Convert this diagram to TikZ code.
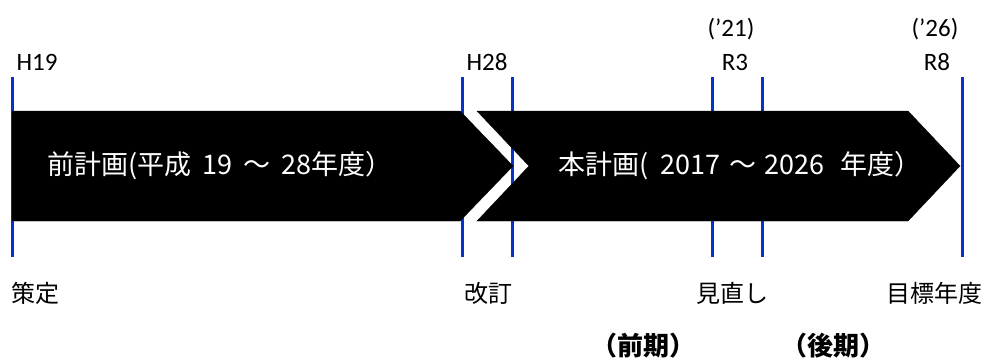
\documentclass[tikz,border=0pt]{standalone}
\usepackage{fontspec}
\setmainfont{Carlito}
\newfontfamily\cjk{Noto Sans CJK JP}
\definecolor{tickblue}{RGB}{5,50,200}
\begin{document}
\begin{tikzpicture}[x=1pt,y=-1pt,
  tick/.style={draw=tickblue,line width=3pt},
  band/.style={fill=black},
  lab/.style={inner sep=0pt,font=\fontsize{25}{27}\selectfont},
  jlab/.style={inner sep=0pt,font=\cjk\fontsize{24}{26}\selectfont},
  inlab/.style={inner sep=0pt,text=white,font=\cjk\fontsize{27}{29}\selectfont},
  phase/.style={inner sep=0pt,font=\cjk\bfseries\fontsize{26}{28}\selectfont}]
\useasboundingbox (0,0) rectangle (992,359);
% tick coordinates
\foreach \n/\x in {a/12,b/462,c/512,d/712,e/762,f/962}{
  \coordinate (\n t) at (\x,77);
  \coordinate (\n b) at (\x,257);
  \draw[tick] (\n t) -- (\n b);
}
% arrows
\draw[band] (12,111) -- (460,111) -- (513,166) -- (460,221) -- (12,221) -- cycle;
\draw[band] (477,111) -- (908,111) -- (960,166) -- (908,221) -- (477,221) -- (529,166) -- cycle;
\node[inlab] (p1) at (220,166) {前計画(平成\hspace{.4em}19\hspace{.4em}～\hspace{.4em}28年度）};
\node[inlab] (p2) at (740,166) {本計画(\hspace{.45em}2017\hspace{.3em}～\hspace{.3em}2026\hspace{.6em}年度）};
% top labels
\node[lab] (h19) at (37,62) {H19};
\node[lab] (h28) at (487,62) {H28};
\node[lab] (r3) at (735,62) {R3};
\node[lab] (r8) at (937,62) {R8};
\node[lab] (y21) at (731,29) {('21)};
\node[lab] (y26) at (935,29) {('26)};
% bottom labels
\node[jlab] (s1) at (36,293) {策定};
\node[jlab] (s2) at (488,293) {改訂};
\node[jlab] (s3) at (732,293) {見直し};
\node[jlab] (s4) at (934,293) {目標年度};
\node[phase] (z1) at (643,346) {（前期）};
\node[phase] (z2) at (833,346) {（後期）};
\end{tikzpicture}
\end{document}
